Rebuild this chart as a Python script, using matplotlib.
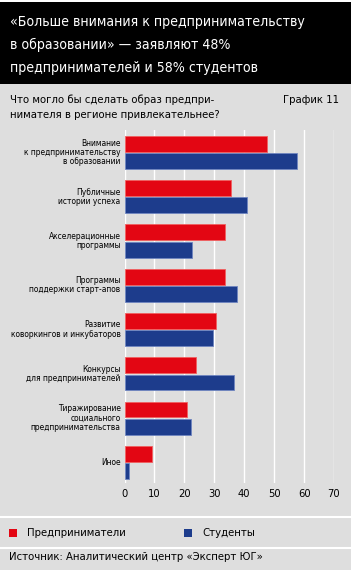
import numpy as np
import matplotlib.pyplot as plt
from matplotlib.patches import Rectangle
from matplotlib import font_manager as fm

categories = [
    "Внимание\nк предпринимательству\nв образовании",
    "Публичные\nистории успеха",
    "Акселерационные\nпрограммы",
    "Программы\nподдержки старт-апов",
    "Развитие\nковоркингов и инкубаторов",
    "Конкурсы\nдля предпринимателей",
    "Тиражирование\nсоциального\nпредпринимательства",
    "Иное",
]
entrepreneurs = [47.5, 35.6, 33.7, 33.7, 30.7, 23.9, 20.9, 9.1]
students = [57.7, 40.9, 22.4, 37.5, 29.6, 36.6, 22.2, 1.5]
xticks = [0, 10, 20, 30, 40, 50, 60, 70]
title_lines = ["«Больше внимания к предпринимательству",
               "в образовании» — заявляют 48%",
               "предпринимателей и 58% студентов"]

RED = '#e30613'
BLUE = '#1d3c8c'
GRAY = '#dedede'

# narrowest font we can find (condensed faces if installed)
narrow = [f for f in fm.fontManager.ttflist
          if ('Condensed' in f.fname or 'Narrow' in f.fname)
          and 'Bold' not in f.fname and 'Oblique' not in f.fname
          and 'Italic' not in f.fname and 'Mono' not in f.fname]
FAM = narrow[0].fname if narrow else None
plt.rcParams['font.family'] = ['Liberation Sans', 'DejaVu Sans']

W, H = 351, 577
fig = plt.figure(figsize=(W / 100, H / 100), dpi=100)
renderer = fig.canvas.get_renderer()


def fit(t, width):
    # scale font size so the text spans the given width in pixels
    w = t.get_window_extent(renderer).width
    t.set_fontsize(t.get_fontsize() * width / w)
    return t.get_fontsize()


def txt(ax, x, y, s, size, **kw):
    if FAM:
        kw['fontproperties'] = fm.FontProperties(fname=FAM, size=size)
    else:
        kw['fontsize'] = size
    return ax.text(x, y, s, **kw)


# background canvas in pixel coords
bg = fig.add_axes([0, 0, 1, 1])
bg.set_xlim(0, W)
bg.set_ylim(H, 0)
bg.axis('off')
bg.add_patch(Rectangle((0, 84), W, 486, color=GRAY, lw=0))
bg.add_patch(Rectangle((0, 2), W, 82, color='black', lw=0))
bg.plot([0, W], [516.5, 516.5], color='white', lw=1.5)
bg.plot([0, W], [547.5, 547.5], color='white', lw=1.5)

t = txt(bg, 10, 22, title_lines[0], 12, color='white', va='center', ha='left')
title_size = fit(t, 294)
txt(bg, 10, 45, title_lines[1], title_size, color='white', va='center', ha='left')
txt(bg, 10, 68, title_lines[2], title_size, color='white', va='center', ha='left')

t = txt(bg, 10, 100, "Что могло бы сделать образ предпри-", 9, va='center', ha='left')
sub_size = fit(t, 206)
txt(bg, 10, 115, "нимателя в регионе привлекательнее?", sub_size, va='center', ha='left')
txt(bg, 339, 100, "График 11", sub_size, va='center', ha='right')

# legend
t = txt(bg, 27, 533, "Предприниматели", 9.5, va='center', ha='left')
leg_size = fit(t, 100)
bg.add_patch(Rectangle((9, 529), 8, 8, color=RED, lw=0))
bg.add_patch(Rectangle((184, 529), 8, 8, color=BLUE, lw=0))
txt(bg, 202, 533, "Студенты", leg_size, va='center', ha='left')
txt(bg, 9, 557, "Источник: Аналитический центр «Эксперт ЮГ»", leg_size,
    va='center', ha='left')

# chart
left, right, top, bottom = 124.5, 334, 130, 483
ax = fig.add_axes([left / W, 1 - bottom / H, (right - left) / W, (bottom - top) / H])
ax.patch.set_alpha(0)
y = np.arange(len(categories))
ax.barh(y - 0.195, entrepreneurs, height=0.36, color=RED, edgecolor='#f06060',
        lw=0.6, zorder=3)
ax.barh(y + 0.195, students, height=0.36, color=BLUE, edgecolor='#6f86c0',
        lw=0.6, zorder=3)
ax.set_xlim(0, 70)
ax.set_ylim(7.465, -0.506)
ax.set_xticks(xticks)
ax.set_yticks(y)
ax.set_yticklabels([])
ax.set_xticklabels([])
ax.tick_params(length=0)
for xt in xticks:
    ax.axvline(xt, color='white', lw=1, zorder=1)
for s in ax.spines.values():
    s.set_visible(False)

# category labels, right aligned next to the axis
probe = txt(bg, 0, 0, "коворкингов и инкубаторов", 7)
cat_size = fit(probe, 110)
probe.remove()
for yi, lab in zip(y, categories):
    txt(ax, -1.3, yi, lab, cat_size, ha='right', va='center', linespacing=1.05)
for xt in xticks:
    txt(ax, xt, 7.465 + 0.24, str(xt), 8, ha='center', va='center')

fig.savefig('out.png', dpi=100)
